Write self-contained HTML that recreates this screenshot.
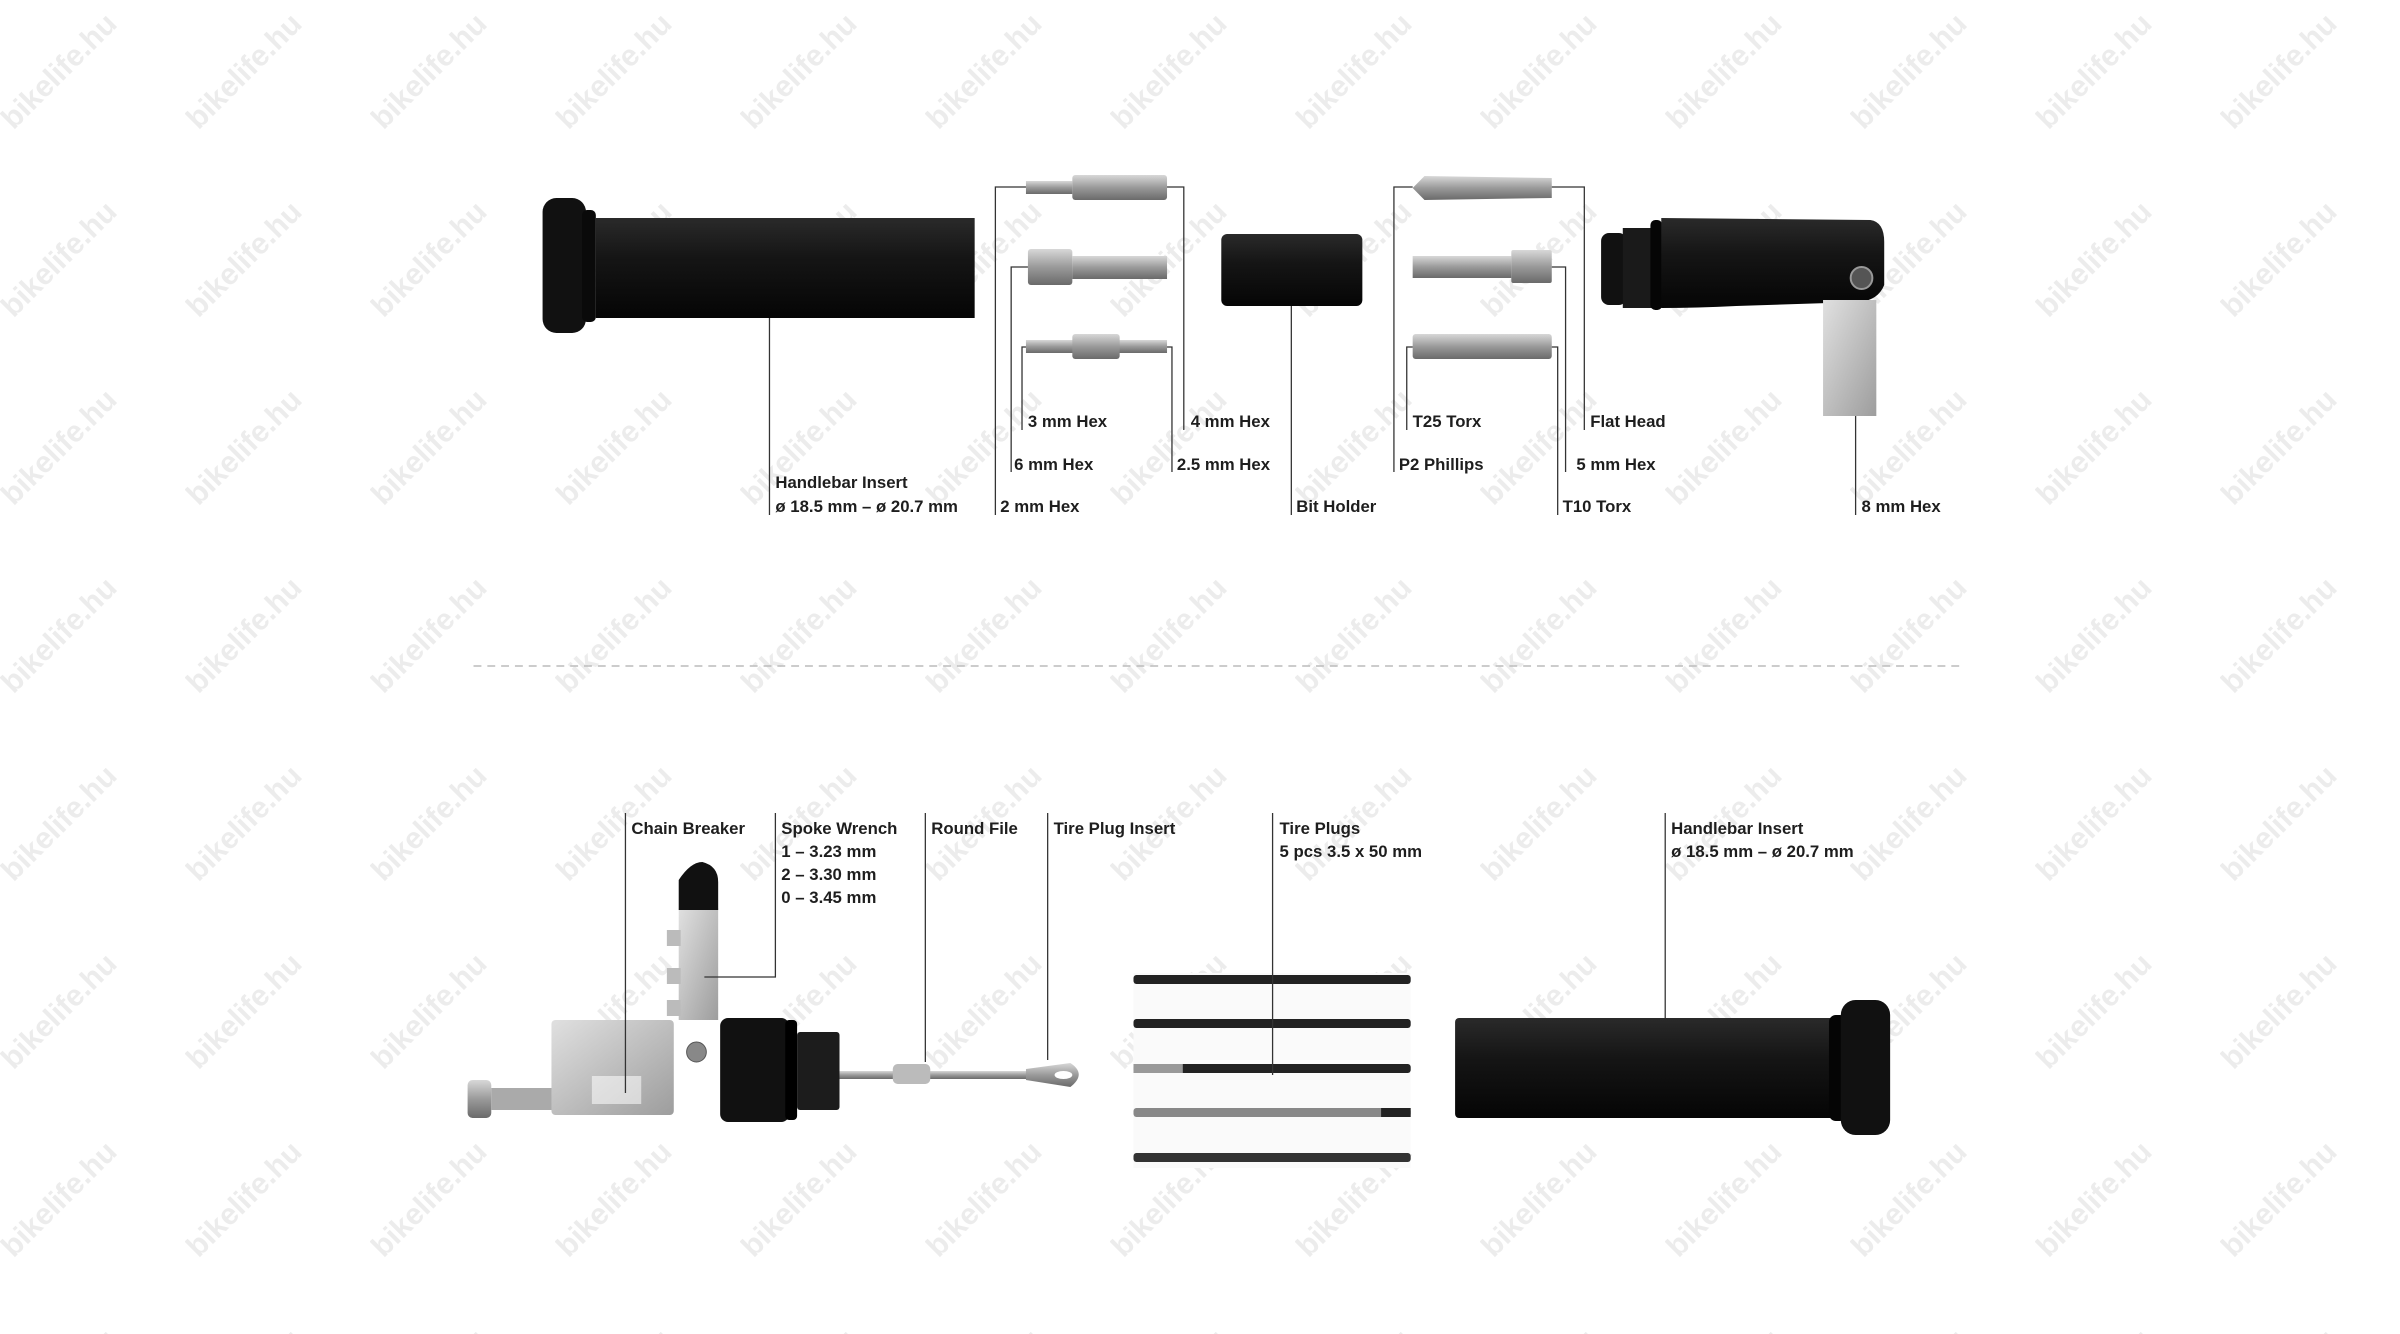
<!DOCTYPE html>
<html><head><meta charset="utf-8"><style>
html,body{margin:0;padding:0;background:#fff}
svg{display:block}
.t{font-family:"Liberation Sans Narrow","Liberation Sans",sans-serif;font-weight:bold;font-size:17px;fill:#1e1e1e}
.l{stroke:#333;stroke-width:1.3;fill:none}
.wm{font-family:"Liberation Sans",sans-serif;font-weight:bold;font-size:30px;fill:#ececec}
</style></head><body>
<svg width="2400" height="1334" viewBox="0 0 2400 1334" xmlns="http://www.w3.org/2000/svg">
<defs>
<pattern id="wm" x="0" y="0" width="185" height="188" patternUnits="userSpaceOnUse">
<text class="wm" x="0" y="0" text-anchor="middle" transform="translate(66,78) rotate(-45)">bikelife.hu</text>
</pattern>
<linearGradient id="blk" x1="0" y1="0" x2="0" y2="1"><stop offset="0" stop-color="#2a2a2a"/><stop offset=".4" stop-color="#151515"/><stop offset="1" stop-color="#050505"/></linearGradient>
<linearGradient id="sil" x1="0" y1="0" x2="0" y2="1"><stop offset="0" stop-color="#d8d8d8"/><stop offset=".5" stop-color="#9a9a9a"/><stop offset="1" stop-color="#6a6a6a"/></linearGradient>
<linearGradient id="sil2" x1="0" y1="0" x2="1" y2="1"><stop offset="0" stop-color="#e0e0e0"/><stop offset="1" stop-color="#9d9d9d"/></linearGradient>
</defs>
<rect width="2400" height="1334" fill="url(#wm)"/>
<g transform="scale(0.9865,1)">
<!-- TOP: handlebar insert -->
<rect x="550" y="198" width="44" height="135" rx="14" fill="#111"/>
<rect x="590" y="210" width="14" height="112" rx="5" fill="#0a0a0a"/>
<rect x="604" y="218" width="384" height="100" fill="url(#blk)"/>
<line class="l" x1="780" y1="318" x2="780" y2="515"/>
<text class="t" x="786" y="488">Handlebar Insert</text>
<text class="t" x="786" y="512">ø 18.5 mm – ø 20.7 mm</text>

<!-- hex bits -->
<rect x="1040" y="181" width="47" height="13" fill="url(#sil)"/><rect x="1087" y="175" width="96" height="25" rx="3" fill="url(#sil)"/>
<rect x="1042" y="249" width="45" height="36" rx="3" fill="url(#sil)"/><rect x="1087" y="256" width="96" height="23" fill="url(#sil)"/>
<rect x="1040" y="340" width="143" height="13" fill="url(#sil)"/><rect x="1087" y="334" width="48" height="25" rx="3" fill="url(#sil)"/>
<polyline class="l" points="1040,187 1009,187 1009,515"/>
<polyline class="l" points="1183,187 1200,187 1200,430"/>
<polyline class="l" points="1042,267 1025,267 1025,472"/>
<polyline class="l" points="1040,347 1036,347 1036,430"/>
<polyline class="l" points="1183,347 1188,347 1188,472"/>
<text class="t" x="1042" y="427">3 mm Hex</text>
<text class="t" x="1207" y="427">4 mm Hex</text>
<text class="t" x="1028" y="470">6 mm Hex</text>
<text class="t" x="1193" y="470">2.5 mm Hex</text>
<text class="t" x="1014" y="512">2 mm Hex</text>

<!-- bit holder -->
<rect x="1238" y="234" width="143" height="72" rx="6" fill="url(#blk)"/>
<line class="l" x1="1309" y1="306" x2="1309" y2="515"/>
<text class="t" x="1314" y="512">Bit Holder</text>

<!-- right bits -->
<path d="M1432,188 L1444,176 L1573,178 L1573,198 L1444,200 Z" fill="url(#sil)"/>
<rect x="1432" y="256" width="100" height="22" fill="url(#sil)"/><rect x="1532" y="250" width="41" height="33" rx="2" fill="url(#sil)"/>
<rect x="1432" y="334" width="141" height="25" rx="3" fill="url(#sil)"/>
<polyline class="l" points="1432,187 1413,187 1413,472"/>
<polyline class="l" points="1573,187 1606,187 1606,430"/>
<polyline class="l" points="1573,267 1587,267 1587,472"/>
<polyline class="l" points="1432,347 1426,347 1426,430"/>
<polyline class="l" points="1573,347 1579,347 1579,515"/>
<text class="t" x="1432" y="427">T25 Torx</text>
<text class="t" x="1612" y="427">Flat Head</text>
<text class="t" x="1418" y="470">P2 Phillips</text>
<text class="t" x="1598" y="470">5 mm Hex</text>
<text class="t" x="1584" y="512">T10 Torx</text>

<!-- angled piece -->
<rect x="1623" y="233" width="26" height="72" rx="8" fill="#111"/>
<rect x="1645" y="228" width="34" height="80" fill="#1a1a1a"/>
<rect x="1673" y="220" width="12" height="90" rx="5" fill="#050505"/>
<path d="M1684,218 L1896,220 Q1910,222 1910,242 L1910,285 Q1904,300 1885,302 L1760,306 Q1720,308 1684,308 Z" fill="url(#blk)"/>
<circle cx="1887" cy="278" r="11" fill="#555" stroke="#999" stroke-width="2"/>
<rect x="1848" y="300" width="54" height="116" fill="url(#sil2)"/>
<line class="l" x1="1881" y1="416" x2="1881" y2="515"/>
<text class="t" x="1887" y="512">8 mm Hex</text>

<!-- dashed separator -->
<line x1="480" y1="666" x2="1992" y2="666" stroke="#bbb" stroke-width="1.5" stroke-dasharray="8,6"/>

<!-- BOTTOM: multi tool -->
<rect x="474" y="1080" width="24" height="38" rx="5" fill="url(#sil)"/>
<rect x="498" y="1088" width="62" height="22" fill="#aaa"/>
<rect x="559" y="1020" width="124" height="95" rx="4" fill="url(#sil2)"/>
<rect x="600" y="1076" width="50" height="28" fill="#fff" opacity=".55"/>
<rect x="688" y="908" width="40" height="112" fill="url(#sil2)"/>
<rect x="676" y="930" width="14" height="16" fill="#bbb"/><rect x="676" y="968" width="14" height="16" fill="#bbb"/><rect x="676" y="1000" width="14" height="16" fill="#bbb"/>
<path d="M688,910 L688,880 Q700,862 712,862 Q728,866 728,882 L728,910 Z" fill="#111"/>
<circle cx="706" cy="1052" r="10" fill="#888" stroke="#555"/>
<rect x="730" y="1018" width="70" height="104" rx="8" fill="#111"/>
<rect x="796" y="1020" width="12" height="100" rx="4" fill="#000"/>
<rect x="808" y="1032" width="43" height="78" rx="3" fill="#1c1c1c"/>
<rect x="851" y="1071" width="215" height="8" fill="url(#sil)"/>
<rect x="905" y="1064" width="38" height="20" rx="5" fill="#bbb"/>
<path d="M1040,1069 L1085,1063 Q1102,1074 1085,1087 L1040,1080 Z" fill="url(#sil)"/>
<ellipse cx="1078" cy="1075" rx="9" ry="4" fill="#fff"/>

<polyline class="l" points="634,813 634,1093"/>
<polyline class="l" points="786,813 786,977 714,977"/>
<line class="l" x1="938" y1="813" x2="938" y2="1062"/>
<line class="l" x1="1062" y1="813" x2="1062" y2="1060"/>
<text class="t" x="640" y="834">Chain Breaker</text>
<text class="t" x="792" y="834">Spoke Wrench</text>
<text class="t" x="792" y="857">1 – 3.23 mm</text>
<text class="t" x="792" y="880">2 – 3.30 mm</text>
<text class="t" x="792" y="903">0 – 3.45 mm</text>
<text class="t" x="944" y="834">Round File</text>
<text class="t" x="1068" y="834">Tire Plug Insert</text>

<!-- tire plugs -->
<rect x="1149" y="973" width="281" height="195" fill="#fafafa"/>
<rect x="1149" y="975" width="281" height="9" rx="3" fill="#222"/>
<rect x="1149" y="1019" width="281" height="9" rx="3" fill="#222"/>
<rect x="1149" y="1064" width="281" height="9" rx="3" fill="#222"/>
<rect x="1149" y="1064" width="50" height="9" fill="#999"/>
<rect x="1149" y="1108" width="281" height="9" rx="3" fill="#888"/>
<rect x="1400" y="1108" width="30" height="9" fill="#222"/>
<rect x="1149" y="1153" width="281" height="9" rx="3" fill="#333"/>
<line class="l" x1="1290" y1="813" x2="1290" y2="1075"/>
<text class="t" x="1297" y="834">Tire Plugs</text>
<text class="t" x="1297" y="857">5 pcs 3.5 x 50 mm</text>

<!-- handlebar insert bottom -->
<rect x="1475" y="1018" width="385" height="100" rx="4" fill="url(#blk)"/>
<rect x="1854" y="1015" width="18" height="106" rx="7" fill="#050505"/>
<rect x="1866" y="1000" width="50" height="135" rx="15" fill="#111"/>
<line class="l" x1="1688" y1="813" x2="1688" y2="1018"/>
<text class="t" x="1694" y="834">Handlebar Insert</text>
<text class="t" x="1694" y="857">ø 18.5 mm – ø 20.7 mm</text>
</g>
</svg>
</body></html>
